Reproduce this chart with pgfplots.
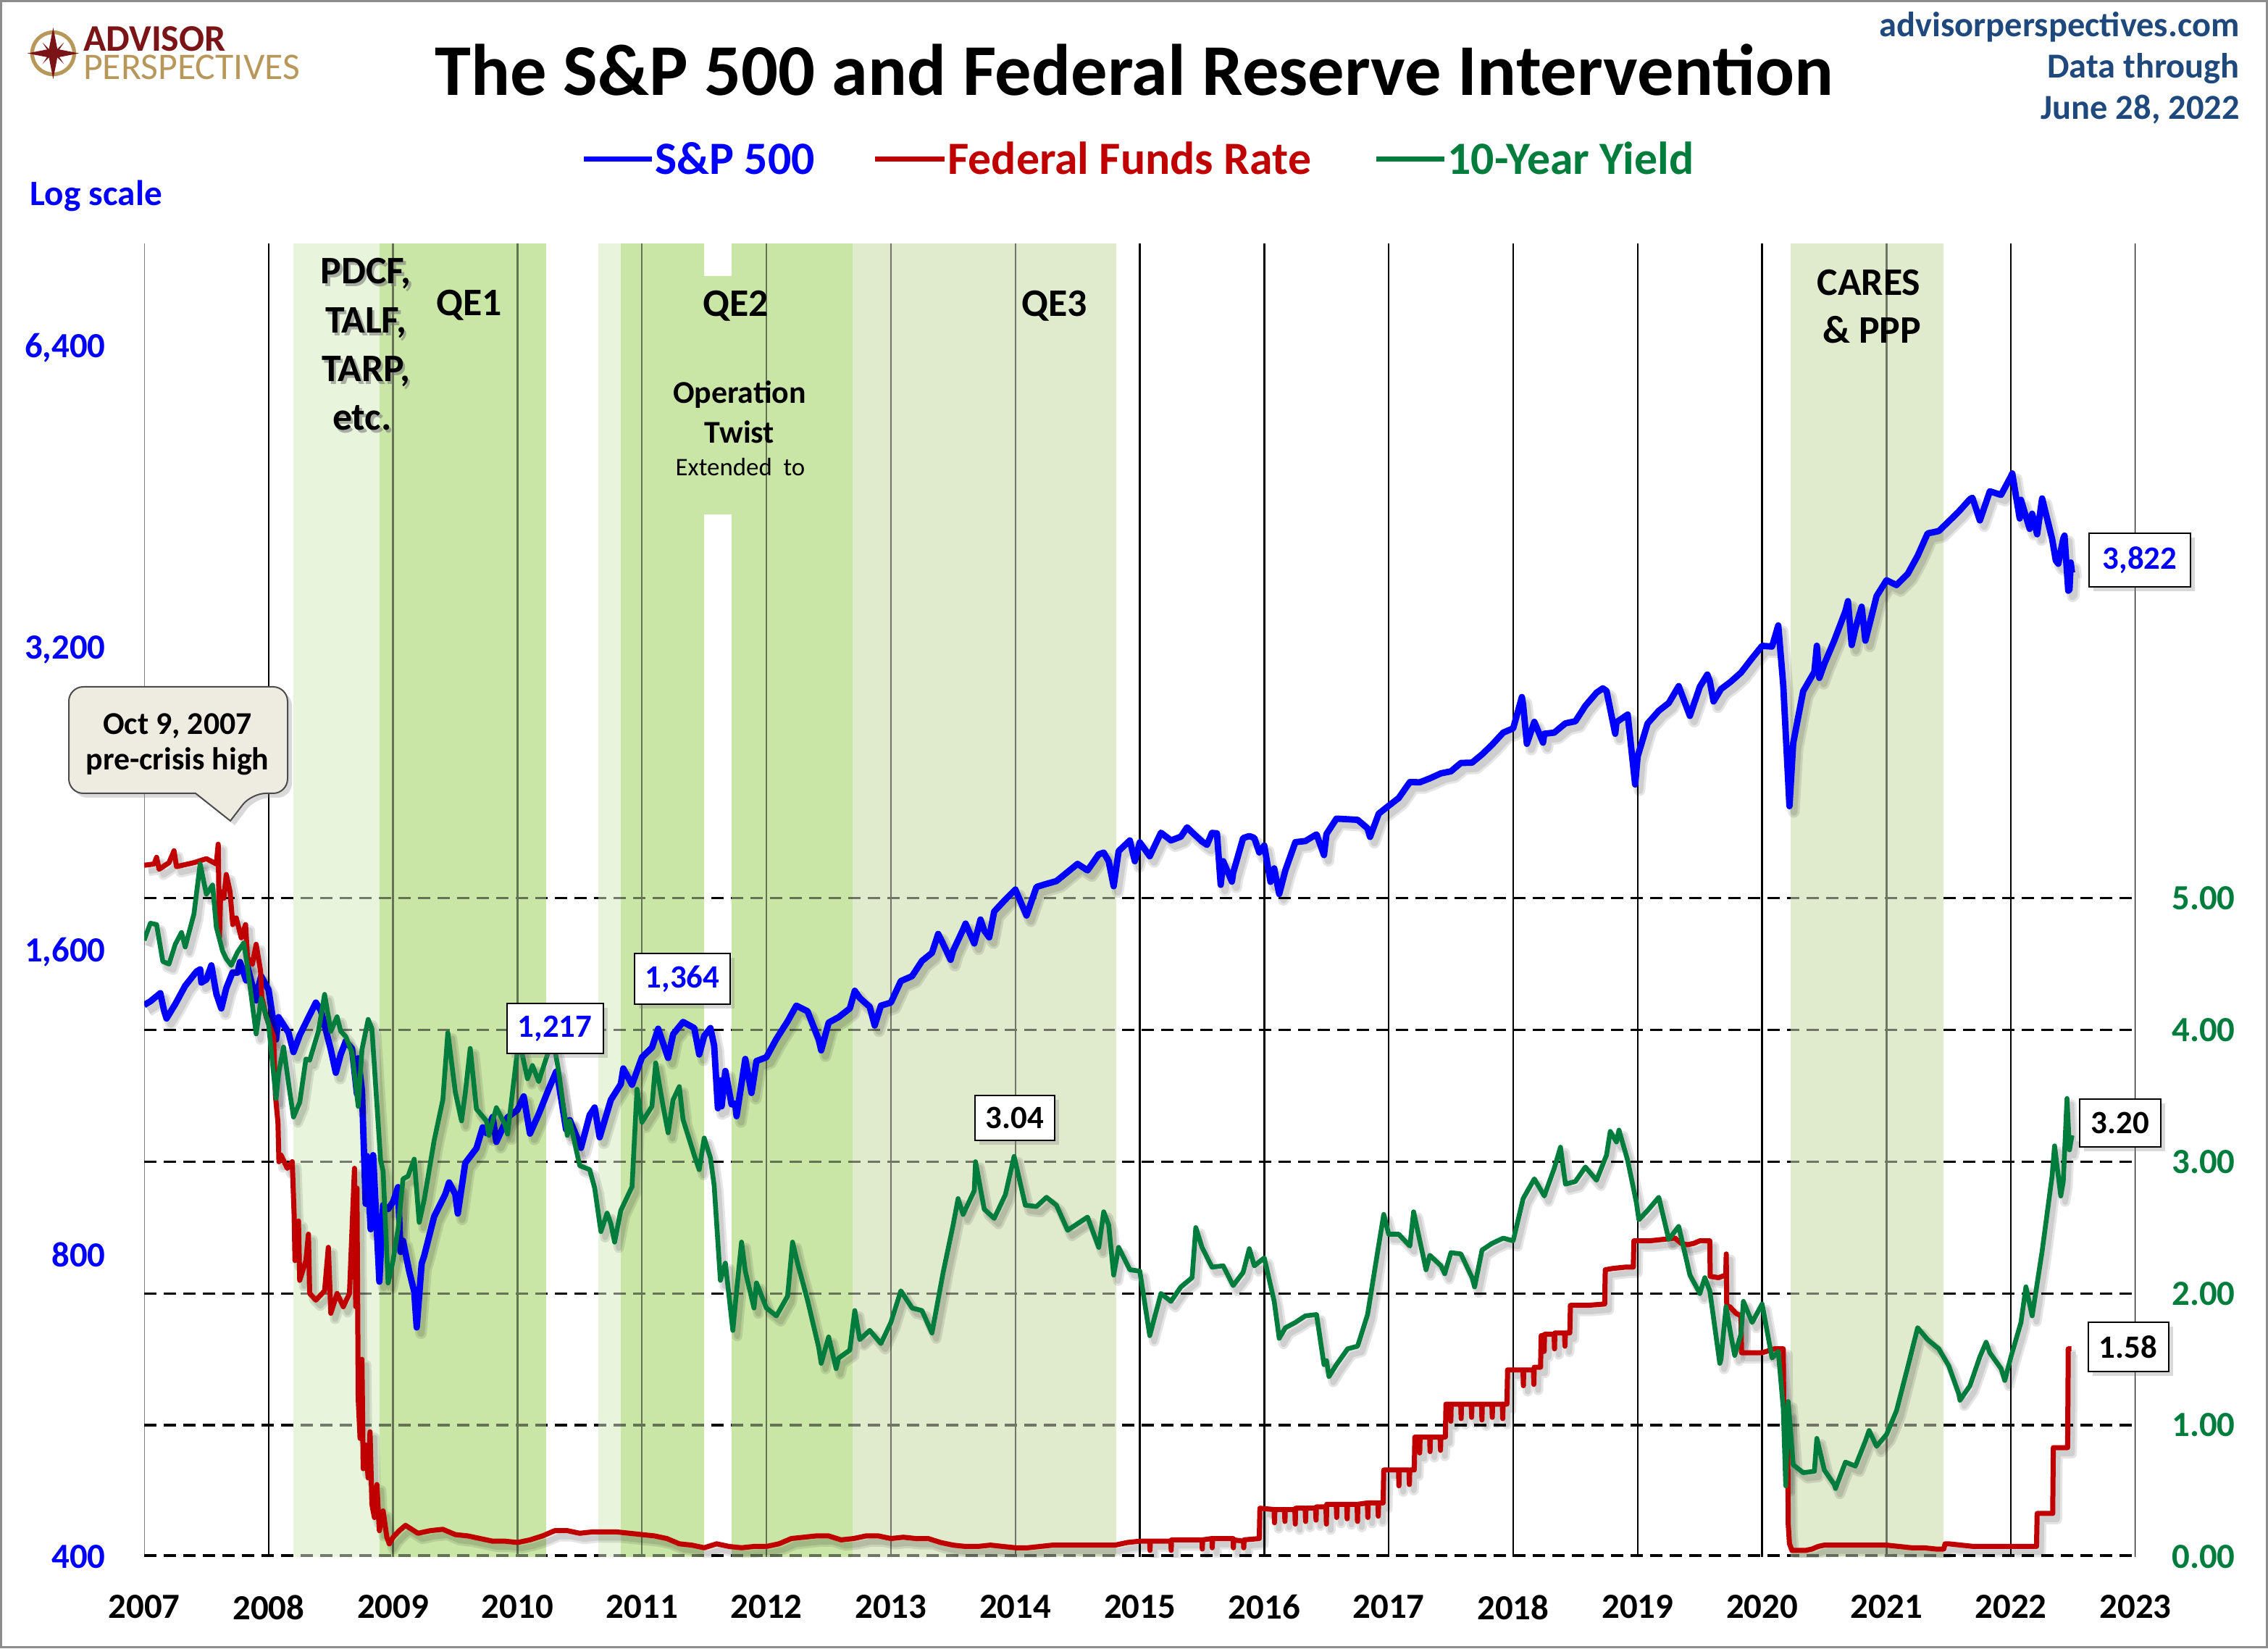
\documentclass[border=0pt]{standalone}
\usepackage{fontspec}
\setmainfont{Carlito}
\usepackage{pgfplots}
\pgfplotsset{compat=1.18}
\usepackage{pgfplotstable}
\usetikzlibrary{shadows}

\definecolor{spblue}{RGB}{0,0,255}
\definecolor{ffred}{RGB}{192,0,0}
\definecolor{tygreen}{RGB}{0,125,60}
\definecolor{shlight}{RGB}{232,245,220}
\definecolor{shdark}{RGB}{201,230,166}
\definecolor{shbeige}{RGB}{224,234,204}
\definecolor{aptext}{RGB}{31,73,125}
\definecolor{apred}{RGB}{122,20,22}
\definecolor{apgold}{RGB}{184,151,90}
\definecolor{callfill}{RGB}{238,236,225}

\pgfplotstableread{
x y
2007.000 1418
2007.050 1430
2007.130 1457
2007.160 1400
2007.180 1375
2007.250 1421
2007.330 1482
2007.420 1531
2007.450 1539
2007.460 1493
2007.500 1503
2007.540 1553
2007.580 1455
2007.620 1407
2007.660 1474
2007.710 1528
2007.750 1527
2007.770 1565
2007.820 1500
2007.830 1549
2007.900 1433
2007.920 1481
2007.940 1515
2008.000 1468
2008.060 1310
2008.080 1379
2008.160 1331
2008.200 1273
2008.250 1323
2008.330 1386
2008.380 1426
2008.420 1400
2008.500 1280
2008.540 1214
2008.580 1267
2008.620 1305
2008.670 1283
2008.710 1156
2008.720 1255
2008.750 1166
2008.780 899
2008.790 1003
2008.820 848
2008.830 969
2008.840 1005
2008.890 752
2008.920 896
2008.960 888
2009.000 903
2009.040 934
2009.060 805
2009.080 826
2009.130 770
2009.170 735
2009.190 677
2009.230 784
2009.250 798
2009.330 873
2009.420 919
2009.450 944
2009.500 919
2009.520 879
2009.580 987
2009.670 1021
2009.720 1071
2009.750 1057
2009.800 1097
2009.830 1036
2009.920 1096
2010.000 1115
2010.050 1150
2010.100 1056
2010.170 1104
2010.250 1169
2010.310 1217
2010.330 1187
2010.390 1066
2010.420 1089
2010.500 1031
2010.510 1022
2010.580 1102
2010.620 1121
2010.660 1047
2010.750 1141
2010.830 1183
2010.850 1226
2010.920 1181
2011.000 1258
2011.080 1286
2011.130 1343
2011.210 1256
2011.250 1326
2011.330 1364
2011.420 1345
2011.460 1266
2011.500 1321
2011.550 1345
2011.580 1292
2011.610 1119
2011.630 1193
2011.640 1124
2011.670 1219
2011.720 1129
2011.750 1131
2011.760 1099
2011.830 1253
2011.880 1159
2011.920 1247
2012.000 1258
2012.080 1312
2012.170 1366
2012.240 1416
2012.330 1398
2012.420 1310
2012.440 1278
2012.500 1362
2012.580 1379
2012.670 1407
2012.710 1465
2012.750 1441
2012.830 1412
2012.870 1353
2012.920 1416
2013.000 1426
2013.080 1498
2013.170 1515
2013.250 1569
2013.330 1598
2013.380 1669
2013.420 1631
2013.480 1573
2013.500 1606
2013.580 1686
2013.600 1709
2013.670 1633
2013.720 1725
2013.750 1682
2013.790 1656
2013.830 1757
2013.920 1806
2014.000 1848
2014.090 1741
2014.170 1859
2014.250 1872
2014.330 1884
2014.420 1924
2014.500 1960
2014.580 1931
2014.670 2003
2014.710 2011
2014.750 1972
2014.790 1862
2014.830 2018
2014.920 2068
2014.960 1972
2015.000 2059
2015.080 1995
2015.170 2105
2015.250 2068
2015.330 2086
2015.380 2131
2015.420 2107
2015.500 2063
2015.540 2047
2015.580 2104
2015.620 2102
2015.650 1868
2015.670 1972
2015.740 1882
2015.750 1920
2015.830 2079
2015.880 2089
2015.920 2080
2015.960 2012
2016.000 2044
2016.050 1881
2016.080 1940
2016.120 1829
2016.170 1932
2016.250 2060
2016.330 2065
2016.420 2097
2016.480 2000
2016.500 2099
2016.580 2174
2016.670 2171
2016.750 2168
2016.830 2126
2016.850 2085
2016.920 2199
2017.000 2239
2017.080 2279
2017.170 2364
2017.250 2363
2017.330 2384
2017.420 2412
2017.500 2423
2017.580 2470
2017.670 2472
2017.750 2519
2017.830 2575
2017.920 2648
2018.000 2674
2018.070 2873
2018.080 2824
2018.110 2581
2018.170 2714
2018.240 2588
2018.250 2641
2018.330 2648
2018.420 2705
2018.500 2718
2018.580 2816
2018.670 2902
2018.720 2931
2018.750 2914
2018.820 2641
2018.830 2712
2018.920 2760
2018.980 2351
2019.000 2507
2019.080 2704
2019.170 2784
2019.250 2834
2019.330 2946
2019.420 2752
2019.500 2942
2019.560 3025
2019.580 2980
2019.610 2844
2019.670 2926
2019.750 2977
2019.830 3038
2019.920 3141
2020.000 3231
2020.080 3226
2020.130 3386
2020.170 2954
2020.220 2237
2020.250 2585
2020.330 2912
2020.420 3044
2020.440 3232
2020.460 3002
2020.500 3100
2020.580 3271
2020.670 3500
2020.690 3580
2020.720 3237
2020.750 3363
2020.800 3534
2020.830 3270
2020.920 3622
2021.000 3756
2021.080 3714
2021.170 3811
2021.250 3973
2021.330 4181
2021.420 4204
2021.500 4298
2021.580 4395
2021.670 4523
2021.690 4537
2021.750 4308
2021.830 4605
2021.920 4567
2022.000 4766
2022.010 4797
2022.070 4327
2022.080 4516
2022.150 4225
2022.170 4374
2022.210 4173
2022.250 4530
2022.330 4132
2022.360 3930
2022.380 3901
2022.420 4132
2022.430 4160
2022.460 3667
2022.470 3675
2022.480 3912
2022.490 3822
}\spx

\pgfplotstableread{
x y
2007.000 4.68
2007.050 4.81
2007.100 4.80
2007.150 4.52
2007.200 4.50
2007.250 4.65
2007.300 4.74
2007.330 4.63
2007.400 4.88
2007.450 5.26
2007.500 5.03
2007.550 5.10
2007.580 4.78
2007.630 4.60
2007.660 4.54
2007.700 4.49
2007.750 4.59
2007.800 4.66
2007.830 4.48
2007.900 3.97
2007.940 4.24
2008.000 4.04
2008.060 3.48
2008.080 3.67
2008.120 3.87
2008.170 3.53
2008.200 3.34
2008.250 3.45
2008.300 3.78
2008.330 3.77
2008.400 3.99
2008.450 4.27
2008.500 3.99
2008.550 4.10
2008.580 3.99
2008.620 3.95
2008.670 3.83
2008.720 3.42
2008.750 3.85
2008.800 4.08
2008.830 4.01
2008.900 3.01
2008.920 2.93
2008.960 2.08
2009.000 2.25
2009.040 2.49
2009.080 2.87
2009.120 2.89
2009.170 3.02
2009.210 2.54
2009.250 2.71
2009.330 3.16
2009.400 3.47
2009.440 3.98
2009.500 3.53
2009.550 3.31
2009.580 3.52
2009.620 3.86
2009.670 3.40
2009.750 3.31
2009.770 3.20
2009.830 3.41
2009.900 3.28
2009.920 3.21
2010.000 3.85
2010.030 3.85
2010.080 3.63
2010.120 3.73
2010.170 3.61
2010.250 3.84
2010.270 4.01
2010.330 3.69
2010.400 3.20
2010.420 3.31
2010.500 2.97
2010.580 2.94
2010.620 2.80
2010.670 2.47
2010.720 2.61
2010.750 2.53
2010.780 2.39
2010.830 2.63
2010.920 2.81
2010.960 3.55
2011.000 3.30
2011.080 3.42
2011.110 3.75
2011.170 3.42
2011.210 3.22
2011.250 3.47
2011.300 3.57
2011.330 3.32
2011.420 3.05
2011.460 2.94
2011.500 3.18
2011.550 3.03
2011.580 2.82
2011.630 2.10
2011.670 2.23
2011.730 1.72
2011.750 1.92
2011.800 2.39
2011.830 2.17
2011.900 1.89
2011.920 2.08
2012.000 1.89
2012.080 1.83
2012.170 1.98
2012.210 2.39
2012.250 2.23
2012.330 1.95
2012.420 1.59
2012.440 1.47
2012.500 1.67
2012.560 1.43
2012.580 1.51
2012.670 1.57
2012.710 1.87
2012.750 1.65
2012.830 1.72
2012.920 1.62
2013.000 1.78
2013.080 2.02
2013.170 1.89
2013.250 1.87
2013.330 1.70
2013.420 2.16
2013.500 2.52
2013.540 2.72
2013.580 2.60
2013.670 2.78
2013.680 3.00
2013.750 2.64
2013.830 2.57
2013.920 2.75
2013.990 3.04
2014.000 3.00
2014.080 2.67
2014.170 2.66
2014.250 2.73
2014.330 2.67
2014.420 2.48
2014.500 2.53
2014.580 2.58
2014.670 2.35
2014.710 2.62
2014.750 2.52
2014.790 2.14
2014.830 2.35
2014.920 2.18
2015.000 2.17
2015.080 1.68
2015.170 2.00
2015.250 1.94
2015.330 2.05
2015.420 2.12
2015.450 2.50
2015.500 2.35
2015.580 2.20
2015.670 2.21
2015.750 2.06
2015.830 2.16
2015.880 2.34
2015.920 2.21
2016.000 2.27
2016.080 1.94
2016.120 1.66
2016.170 1.74
2016.250 1.78
2016.330 1.83
2016.420 1.84
2016.480 1.46
2016.500 1.49
2016.520 1.37
2016.580 1.46
2016.670 1.58
2016.750 1.60
2016.830 1.84
2016.920 2.37
2016.960 2.60
2017.000 2.45
2017.080 2.45
2017.170 2.36
2017.200 2.62
2017.250 2.40
2017.300 2.18
2017.330 2.29
2017.420 2.21
2017.450 2.15
2017.500 2.31
2017.580 2.30
2017.670 2.12
2017.690 2.05
2017.750 2.33
2017.830 2.38
2017.920 2.42
2018.000 2.40
2018.080 2.72
2018.170 2.87
2018.250 2.74
2018.330 2.95
2018.380 3.11
2018.420 2.83
2018.500 2.85
2018.580 2.96
2018.670 2.86
2018.750 3.05
2018.780 3.23
2018.830 3.15
2018.850 3.24
2018.920 3.01
2018.990 2.69
2019.010 2.56
2019.080 2.63
2019.170 2.73
2019.250 2.41
2019.330 2.51
2019.420 2.14
2019.500 2.00
2019.540 2.12
2019.580 2.02
2019.660 1.47
2019.670 1.50
2019.710 1.90
2019.750 1.68
2019.780 1.53
2019.830 1.69
2019.850 1.94
2019.920 1.78
2020.000 1.92
2020.080 1.51
2020.130 1.56
2020.170 1.13
2020.190 0.54
2020.210 1.18
2020.250 0.70
2020.330 0.64
2020.420 0.65
2020.440 0.90
2020.500 0.66
2020.580 0.55
2020.590 0.52
2020.670 0.72
2020.750 0.69
2020.830 0.88
2020.860 0.96
2020.920 0.84
2021.000 0.93
2021.080 1.11
2021.170 1.44
2021.250 1.74
2021.330 1.65
2021.420 1.58
2021.500 1.45
2021.580 1.24
2021.590 1.19
2021.670 1.30
2021.750 1.52
2021.800 1.63
2021.830 1.55
2021.920 1.43
2021.950 1.34
2022.000 1.52
2022.080 1.78
2022.120 2.05
2022.170 1.83
2022.250 2.32
2022.330 2.89
2022.350 3.12
2022.400 2.74
2022.420 2.85
2022.450 3.48
2022.470 3.09
2022.490 3.20
}\tyx

\pgfplotstableread{
x y
2007.000 5.25
2007.080 5.26
2007.100 5.31
2007.120 5.22
2007.200 5.27
2007.240 5.36
2007.260 5.24
2007.400 5.27
2007.500 5.30
2007.580 5.26
2007.595 5.41
2007.605 4.70
2007.615 5.05
2007.640 5.00
2007.660 5.18
2007.690 5.05
2007.712 4.80
2007.740 4.85
2007.780 4.70
2007.815 4.80
2007.830 4.55
2007.870 4.50
2007.900 4.65
2007.935 4.45
2007.945 4.25
2007.980 4.10
2008.000 4.05
2008.040 3.95
2008.055 3.50
2008.075 3.30
2008.083 3.00
2008.100 3.05
2008.150 2.95
2008.190 3.00
2008.205 2.60
2008.212 2.25
2008.240 2.55
2008.250 2.10
2008.300 2.25
2008.320 2.45
2008.330 2.00
2008.380 1.95
2008.450 2.02
2008.480 2.35
2008.500 1.85
2008.550 2.00
2008.600 1.90
2008.650 2.00
2008.690 2.95
2008.700 1.90
2008.710 2.80
2008.720 1.20
2008.735 0.90
2008.750 1.50
2008.760 0.67
2008.780 0.85
2008.800 0.60
2008.815 0.95
2008.830 0.40
2008.850 0.30
2008.870 0.55
2008.890 0.20
2008.920 0.35
2008.950 0.15
2008.970 0.10
2009.000 0.15
2009.050 0.20
2009.100 0.24
2009.200 0.18
2009.300 0.20
2009.400 0.21
2009.500 0.17
2009.600 0.16
2009.700 0.14
2009.800 0.12
2009.900 0.12
2010.000 0.11
2010.100 0.13
2010.200 0.16
2010.300 0.20
2010.400 0.20
2010.500 0.18
2010.600 0.19
2010.700 0.19
2010.800 0.19
2010.900 0.18
2011.000 0.17
2011.100 0.16
2011.200 0.14
2011.300 0.10
2011.400 0.09
2011.500 0.07
2011.600 0.10
2011.700 0.08
2011.800 0.07
2011.900 0.08
2012.000 0.08
2012.100 0.10
2012.200 0.14
2012.300 0.15
2012.400 0.16
2012.500 0.16
2012.600 0.13
2012.700 0.14
2012.800 0.16
2012.900 0.16
2013.000 0.14
2013.100 0.15
2013.200 0.14
2013.300 0.14
2013.400 0.11
2013.500 0.09
2013.600 0.08
2013.700 0.08
2013.800 0.09
2013.900 0.08
2014.000 0.07
2014.100 0.07
2014.200 0.08
2014.300 0.09
2014.400 0.09
2014.500 0.09
2014.600 0.09
2014.700 0.09
2014.800 0.09
2014.900 0.11
2015.000 0.12
2015.080 0.12
2015.082 0.05
2015.085 0.12
2015.250 0.12
2015.252 0.05
2015.255 0.13
2015.500 0.13
2015.502 0.06
2015.505 0.13
2015.580 0.14
2015.582 0.07
2015.585 0.14
2015.750 0.14
2015.752 0.07
2015.755 0.13
2015.833 0.12
2015.835 0.07
2015.838 0.13
2015.960 0.14
2015.965 0.37
2016.079 0.36
2016.082 0.26
2016.085 0.36
2016.163 0.36
2016.166 0.27
2016.169 0.36
2016.246 0.36
2016.249 0.25
2016.252 0.37
2016.329 0.37
2016.332 0.27
2016.335 0.37
2016.413 0.37
2016.416 0.28
2016.419 0.38
2016.496 0.38
2016.499 0.25
2016.502 0.40
2016.579 0.40
2016.582 0.30
2016.585 0.40
2016.663 0.40
2016.666 0.29
2016.669 0.40
2016.746 0.40
2016.749 0.27
2016.752 0.40
2016.829 0.41
2016.832 0.30
2016.835 0.41
2016.913 0.41
2016.916 0.31
2016.919 0.41
2016.955 0.41
2016.960 0.66
2017.079 0.66
2017.082 0.54
2017.085 0.66
2017.163 0.66
2017.166 0.55
2017.169 0.66
2017.205 0.66
2017.210 0.91
2017.246 0.91
2017.249 0.79
2017.252 0.91
2017.329 0.91
2017.332 0.80
2017.335 0.91
2017.413 0.91
2017.416 0.81
2017.419 0.91
2017.455 0.91
2017.460 1.16
2017.496 1.16
2017.499 1.03
2017.502 1.16
2017.579 1.16
2017.582 1.05
2017.585 1.16
2017.663 1.16
2017.666 1.06
2017.669 1.16
2017.746 1.16
2017.749 1.04
2017.752 1.16
2017.829 1.16
2017.832 1.06
2017.835 1.16
2017.913 1.16
2017.916 1.05
2017.919 1.16
2017.950 1.16
2017.955 1.42
2018.079 1.42
2018.082 1.30
2018.085 1.42
2018.163 1.42
2018.166 1.31
2018.169 1.44
2018.220 1.44
2018.225 1.68
2018.246 1.68
2018.249 1.56
2018.252 1.69
2018.329 1.69
2018.332 1.58
2018.335 1.70
2018.413 1.70
2018.416 1.60
2018.419 1.70
2018.455 1.70
2018.460 1.91
2018.600 1.91
2018.735 1.92
2018.740 2.18
2018.800 2.19
2018.900 2.20
2018.965 2.20
2018.970 2.40
2019.100 2.40
2019.200 2.41
2019.300 2.42
2019.350 2.38
2019.400 2.37
2019.450 2.38
2019.500 2.40
2019.550 2.40
2019.580 2.40
2019.583 2.13
2019.650 2.12
2019.708 2.14
2019.712 2.30
2019.716 1.90
2019.740 1.90
2019.790 1.85
2019.830 1.83
2019.835 1.55
2020.000 1.55
2020.100 1.58
2020.170 1.58
2020.175 1.10
2020.205 1.10
2020.210 0.25
2020.220 0.10
2020.240 0.05
2020.300 0.05
2020.350 0.05
2020.400 0.06
2020.450 0.08
2020.500 0.09
2020.700 0.09
2020.900 0.09
2021.000 0.09
2021.100 0.08
2021.200 0.07
2021.300 0.07
2021.400 0.06
2021.460 0.06
2021.470 0.10
2021.500 0.10
2021.600 0.09
2021.700 0.08
2021.900 0.08
2022.000 0.08
2022.205 0.08
2022.210 0.33
2022.335 0.33
2022.340 0.83
2022.455 0.83
2022.460 1.58
2022.485 1.58
}\ffx

\pgfplotsset{
  base/.style={
    scale only axis, width=1374.5bp, height=906.5bp,
    at={(99.5bp,63bp)}, anchor=south west,
    xmin=2007, xmax=2023,
    axis line style={draw=none}, major tick length=0pt, tick style={draw=none},
    /pgf/number format/assume math mode=true,
    ticklabel style={font=\fontsize{24.5}{28}\selectfont\bfseries, inner sep=0pt},
  },
  shad/.style={black, opacity=0.10, line join=round, xshift=3bp, yshift=-4bp},
}

\newcommand{\shades}[1]{%
  \fill[shlight,fill opacity=#1] (axis cs:2008.20,400) rectangle (axis cs:2008.89,8130);
  \fill[shdark,fill opacity=#1] (axis cs:2008.89,400) rectangle (axis cs:2010.23,8130);
  \fill[shlight,fill opacity=#1] (axis cs:2010.65,400) rectangle (axis cs:2010.83,8130);
  \fill[shdark,fill opacity=#1] (axis cs:2010.83,400) rectangle (axis cs:2011.50,8130);
  \fill[shdark,fill opacity=#1] (axis cs:2011.72,400) rectangle (axis cs:2012.69,8130);
  \fill[shbeige,fill opacity=#1] (axis cs:2012.69,400) rectangle (axis cs:2014.81,8130);
  \fill[shbeige,fill opacity=#1] (axis cs:2020.23,400) rectangle (axis cs:2021.46,8130);
}

\newcommand{\shtext}[4]{%
  \node[anchor=base, text=black!55, opacity=0.55, font=#4] at (#1+1.8,#2-1.8) {#3};
  \node[anchor=base, text=black, font=#4] at (#1,#2) {#3};
}

\begin{document}
\begin{tikzpicture}[x=1bp,y=1bp]
\path[use as bounding box] (0,0) rectangle (1565.5,1137.5);

% ---------- S&P 500 axis (log, left) ----------
\begin{axis}[base,
  ymode=log, log basis y=2, ymin=400, ymax=8130,
  xtick={2007,2008,2009,2010,2011,2012,2013,2014,2015,2016,2017,2018,2019,2020,2021,2022,2023},
  xticklabels={2007,2008,2009,2010,2011,2012,2013,2014,2015,2016,2017,2018,2019,2020,2021,2022,2023},
  xticklabel style={anchor=north, yshift=-26bp, text=black},
  ytick={400,800,1600,3200,6400},
  yticklabels={400,800,{1,600},{3,200},{6,400}},
  yticklabel style={anchor=east, xshift=-26.5bp, text=spblue},
]
\shades{1}
\fill[shdark] (rel axis cs:0.28125,0.7937) rectangle (rel axis cs:0.2950,0.9752);
\draw[black!50, line width=1.2bp] (axis cs:2007,400) -- (axis cs:2007,8130);
\pgfplotsinvokeforeach{2008,2009,2010,2011,2012,2013,2014,2015,2016,2017,2018,2019,2020,2021,2022,2023}{
  \draw[black, line width=1.2bp] (axis cs:#1,400) -- (axis cs:#1,8130);
}
\draw[black, line width=1.7bp, dash pattern=on 8.5bp off 5bp] (rel axis cs:0,0.001) -- (rel axis cs:1,0.001);
\draw[black, line width=1.7bp, dash pattern=on 8.5bp off 5bp] (rel axis cs:0,0.1003) -- (rel axis cs:1,0.1003);
\draw[black, line width=1.7bp, dash pattern=on 8.5bp off 5bp] (rel axis cs:0,0.2006) -- (rel axis cs:1,0.2006);
\draw[black, line width=1.7bp, dash pattern=on 8.5bp off 5bp] (rel axis cs:0,0.3009) -- (rel axis cs:1,0.3009);
\draw[black, line width=1.7bp, dash pattern=on 8.5bp off 5bp] (rel axis cs:0,0.4012) -- (rel axis cs:1,0.4012);
\draw[black, line width=1.7bp, dash pattern=on 8.5bp off 5bp] (rel axis cs:0,0.5015) -- (rel axis cs:1,0.5015);
\shades{0.5}
\addplot[shad, line width=8bp] table[x=x,y=y] {\spx};
\addplot[shad, line width=5bp] table[x=x,y=y] {\spx};
\addplot[spblue, line width=4.4bp, line join=round] table[x=x,y=y] {\spx};
\end{axis}

% ---------- Rates axis (linear, right) ----------
\begin{axis}[base,
  ymin=0, ymax=9.97,
  axis y line*=right,
  xtick=\empty,
  ytick={0,1,2,3,4,5},
  yticklabels={0.00,1.00,2.00,3.00,4.00,5.00},
  yticklabel style={anchor=west, xshift=25bp, text=tygreen},
]
\addplot[shad, line width=7bp] table[x=x,y=y] {\ffx};
\addplot[shad, line width=4bp] table[x=x,y=y] {\ffx};
\addplot[shad, line width=7bp] table[x=x,y=y] {\tyx};
\addplot[shad, line width=4bp] table[x=x,y=y] {\tyx};
\addplot[ffred, line width=3.5bp, line join=round] table[x=x,y=y] {\ffx};
\addplot[tygreen, line width=3.3bp, line join=round] table[x=x,y=y] {\tyx};
\end{axis}

% ---------- Title, legend, header ----------
\node[anchor=base, font=\fontsize{50.5}{56}\selectfont\bfseries] at (783,1071.7) {The S\&P 500 and Federal Reserve Intervention};

\draw[spblue, line width=3.5bp] (403,1027.5) -- (450,1027.5);
\node[anchor=base west, inner sep=0pt, text=spblue, font=\fontsize{32}{36}\selectfont\bfseries] at (452,1017.2) {S\&P 500};
\draw[ffred, line width=3.5bp] (604,1027.5) -- (652,1027.5);
\node[anchor=base west, inner sep=0pt, text=ffred, font=\fontsize{32}{36}\selectfont\bfseries] at (654,1017.2) {Federal Funds Rate};
\draw[tygreen, line width=3.5bp] (950,1027.5) -- (997,1027.5);
\node[anchor=base west, inner sep=0pt, text=tygreen, font=\fontsize{32}{36}\selectfont\bfseries] at (999,1017.2) {10-Year Yield};

\node[anchor=base east, inner sep=0pt, text=aptext, font=\fontsize{24.3}{28}\selectfont\bfseries] at (1546,1112) {advisorperspectives.com};
\node[anchor=base east, inner sep=0pt, text=aptext, font=\fontsize{24.3}{28}\selectfont\bfseries] at (1546,1083.5) {Data through};
\node[anchor=base east, inner sep=0pt, text=aptext, font=\fontsize{24.3}{28}\selectfont\bfseries] at (1546,1055) {June 28, 2022};

\node[anchor=base west, inner sep=0pt, text=spblue, font=\fontsize{24.7}{28}\selectfont\bfseries] at (20.7,995.8) {Log scale};

% logo
\draw[apgold, line width=2.6bp] (36.7,1100.7) circle (14.5);
\fill[apred] (36.7,1118.5) -- (39.6,1103.6) -- (54.5,1100.7) -- (39.6,1097.8) -- (36.7,1082.9) -- (33.8,1097.8) -- (18.9,1100.7) -- (33.8,1103.6) -- cycle;
\fill[apred] (36.7,1100.7) ++(7.5,7.5) -- ++(-6,-9) -- ++(-1.5,1.5) -- cycle;
\fill[apred] (36.7,1100.7) ++(-7.5,7.5) -- ++(6,-9) -- ++(1.5,1.5) -- cycle;
\fill[apred] (36.7,1100.7) ++(7.5,-7.5) -- ++(-6,9) -- ++(-1.5,-1.5) -- cycle;
\fill[apred] (36.7,1100.7) ++(-7.5,-7.5) -- ++(6,9) -- ++(1.5,-1.5) -- cycle;
\node[anchor=north west, inner sep=0pt, align=left, font=\fontsize{26}{19.6}\selectfont] at (57.4,1119.6)
  {\textcolor{apred}{\bfseries ADVISOR}\\\textcolor{apgold}{PERSPECTIVES}};

% ---------- Program labels ----------
\shtext{252.5}{941.5}{PDCF,}{\fontsize{27}{30}\selectfont\bfseries}
\shtext{252.5}{907.5}{TALF,}{\fontsize{27}{30}\selectfont\bfseries}
\shtext{252.5}{874}{TARP,}{\fontsize{27}{30}\selectfont\bfseries}
\shtext{250}{840.5}{etc.}{\fontsize{27}{30}\selectfont\bfseries}
\node[anchor=base, font=\fontsize{27}{30}\selectfont\bfseries] at (323.7,919.9) {QE1};
\node[anchor=base, font=\fontsize{27}{30}\selectfont\bfseries] at (508,919) {QE2};
\node[anchor=base, font=\fontsize{22}{26}\selectfont\bfseries] at (510.5,859) {Operation};
\node[anchor=base, font=\fontsize{22}{26}\selectfont\bfseries] at (510.5,831.5) {Twist};
\node[anchor=base, font=\fontsize{17.5}{20}\selectfont] at (511,809) {Extended\ \ to};
\node[anchor=base, font=\fontsize{27}{30}\selectfont\bfseries] at (728,919) {QE3};
\node[anchor=base, font=\fontsize{27}{30}\selectfont\bfseries] at (1290,933.5) {CARES};
\node[anchor=base, font=\fontsize{27}{30}\selectfont\bfseries] at (1292,900.5) {\& PPP};

% ---------- Callout ----------
\draw[draw=black!70, line width=1bp, fill=callfill, drop shadow={shadow xshift=3bp, shadow yshift=-3bp, opacity=0.3}]
  (47.5,620) [rounded corners=10bp] -- (47.5,663.5) -- (198.5,663.5) -- (198.5,590) -- (173.5,590) [sharp corners] -- (159,571) -- (135,590) [rounded corners=10bp] -- (47.5,590) -- cycle;
\node[anchor=base, font=\fontsize{22}{26}\selectfont\bfseries] at (122.5,630.5) {Oct 9, 2007};
\node[anchor=base, font=\fontsize{22}{26}\selectfont\bfseries] at (122.5,606) {pre-crisis high};

% ---------- Value boxes ----------
\tikzset{valbox/.style={draw=black, line width=1bp, fill=white, inner sep=0pt,
  drop shadow={shadow xshift=3bp, shadow yshift=-3bp, opacity=0.3},
  font=\fontsize{22.5}{26}\selectfont\bfseries}}
\node[valbox, minimum width=66.5bp, minimum height=34.5bp, text=spblue] at (383,427.5) {1,217};
\node[valbox, minimum width=66bp, minimum height=35bp, text=spblue] at (471,462) {1,364};
\node[valbox, minimum width=70bp, minimum height=37bp, text=spblue] at (1477,751) {3,822};
\node[valbox, minimum width=55bp, minimum height=31bp, text=black] at (700.5,366) {3.04};
\node[valbox, minimum width=56bp, minimum height=33bp, text=black] at (1463.5,362.5) {3.20};
\node[valbox, minimum width=55.5bp, minimum height=34bp, text=black] at (1469,208) {1.58};

% border
\draw[black!45, line width=1.5bp] (0.75,0.75) rectangle (1564.75,1136.75);
\end{tikzpicture}
\end{document}
